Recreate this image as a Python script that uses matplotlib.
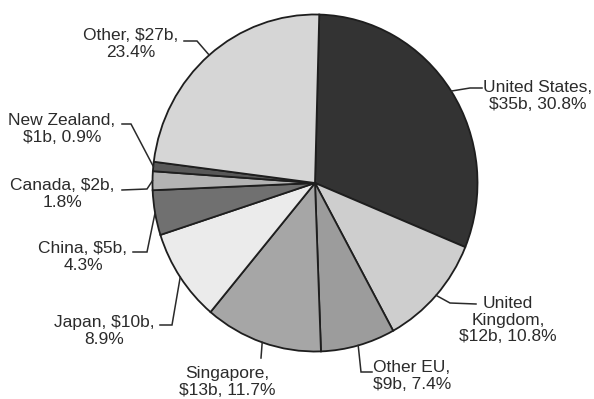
import numpy as np
import matplotlib
matplotlib.use("Agg")
import matplotlib.pyplot as plt

# market share by destination
countries = ["United States", "United Kingdom", "Other EU", "Singapore", "Japan",
             "China", "Canada", "New Zealand", "Other"]
spend_b = [35, 12, 9, 13, 10, 5, 2, 1, 27]
share_pct = [30.8, 10.8, 7.4, 11.7, 8.9, 4.3, 1.8, 0.9, 23.4]
label_text = [
    "United States,\n$35b, 30.8%",
    "United\nKingdom,\n$12b, 10.8%",
    "Other EU,\n$9b, 7.4%",
    "Singapore,\n$13b, 11.7%",
    "Japan, $10b,\n8.9%",
    "China, $5b,\n4.3%",
    "Canada, $2b,\n1.8%",
    "New Zealand,\n$1b, 0.9%",
    "Other, $27b,\n23.4%",
]
shades = ["#333333", "#cecece", "#9c9c9c", "#a6a6a6", "#ebebeb",
          "#707070", "#b3b3b3", "#585858", "#d6d6d6"]

# layout in pixels (origin top-left): text centre, leader elbow, leader end
text_xy = [(538, 96), (508, 320), (412, 376), (227, 382), (104, 331),
           (83, 257), (62, 194), (62, 129), (131, 44)]
elbow_xy = [(470, 88), (450, 303), (361, 372), (261, 358), (172, 325),
            (147, 252), (147, 189), (131, 124), (197, 41)]
end_xy = [(482, 88), (476, 304), (372, 372), (261, 358), (160, 325),
          (133, 252), (122, 190), (122, 124), (184, 41)]

W, H = 594, 399
cx, cy = 315, 183
rx, ry = 162.5, 168.5

fig = plt.figure(figsize=(W / 100, H / 100), dpi=100)
fig.patch.set_facecolor("white")

ax = fig.add_axes([(cx - rx) / W, (H - cy - ry) / H, 2 * rx / W, 2 * ry / H])
wedges, _ = ax.pie(share_pct, colors=shades, startangle=88.5, counterclock=False,
                   radius=1, wedgeprops=dict(edgecolor="#1e1e1e", linewidth=1.3))
ax.set_aspect("auto")
ax.set_xlim(-1, 1)
ax.set_ylim(-1, 1)
ax.axis("off")

ov = fig.add_axes([0, 0, 1, 1])
ov.set_xlim(0, W)
ov.set_ylim(H, 0)
ov.axis("off")
ov.patch.set_alpha(0)

for w, txt, t, e, n in zip(wedges, label_text, text_xy, elbow_xy, end_xy):
    mid = np.deg2rad((w.theta1 + w.theta2) / 2)
    sx = cx + rx * np.cos(mid)
    sy = cy - ry * np.sin(mid)
    ov.plot([sx, e[0], n[0]], [sy, e[1], n[1]], color="#2a2a2a", lw=1.1,
            solid_joinstyle="miter")
    ov.text(t[0], t[1], txt, ha="center", va="center", multialignment="center",
            fontsize=12.5, family="Liberation Sans", color="#2b2b2b",
            linespacing=1.15, parse_math=False)

fig.savefig("out.png", dpi=100, facecolor="white")
